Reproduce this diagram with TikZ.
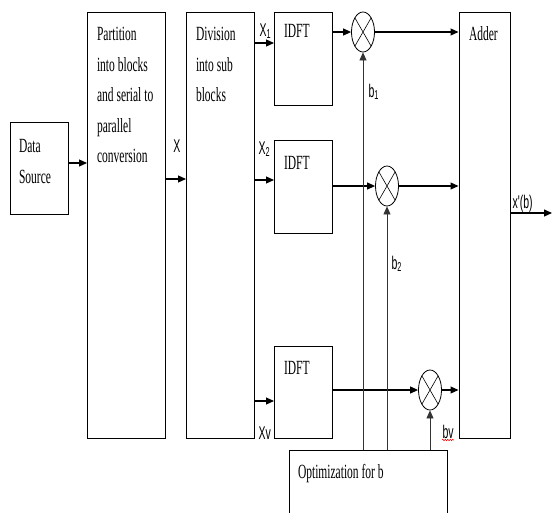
\documentclass[tikz,border=0pt]{standalone}
\usepackage{fontspec}
\setmainfont{Liberation Serif}
\newfontfamily\lblfont{Liberation Sans}
\usetikzlibrary{positioning,shapes.geometric,arrows.meta,decorations.pathmorphing}

\tikzset{
  blk/.style={draw,line width=1pt,inner sep=0pt},
  txt/.style={inner sep=0pt,align=left,font=\fontsize{11.5}{17.4}\selectfont,yscale=1.75},
  sig/.style={inner sep=0pt,font=\lblfont\fontsize{10.5}{12}\selectfont,yscale=1.75},
  mult/.style={draw,ellipse,line width=0.8pt,minimum width=23pt,minimum height=40pt,inner sep=0pt,
    path picture={\draw[line width=0.6pt] (path picture bounding box.north west)--(path picture bounding box.south east)
      (path picture bounding box.north east)--(path picture bounding box.south west);}},
  feed/.style={->,line width=0.8pt,black!80},
}

\begin{document}
\begin{tikzpicture}[x=1pt,y=-1pt,>={Triangle[length=8pt,width=7pt]},line width=1.1pt]
    \useasboundingbox (0,0) rectangle (552,512);
    % blocks
    \node[blk,minimum width=58pt,minimum height=92pt] (src) at (39,168) {};
    \node[blk,minimum width=78pt,minimum height=426pt] (part) at (126,225) {};
    \node[blk,minimum width=68pt,minimum height=426pt] (div) at (220,225) {};
    \node[blk,minimum width=58pt,minimum height=93pt] (idft1) at (303,58.5) {};
    \node[blk,minimum width=58pt,minimum height=93pt] (idft2) at (303,186.5) {};
    \node[blk,minimum width=58pt,minimum height=92pt] (idft3) at (303,392) {};
    \node[blk,minimum width=51pt,minimum height=426pt] (adder) at (484.5,225) {};
    \node[blk,minimum width=158pt,minimum height=90pt] (opt) at (368,495) {};
    % block texts
    \node[txt,below right=17pt and 9pt of src.north west] (tsrc) {Data\\Source};
    \node[txt,below right=15pt and 10pt of part.north west] (tpart) {Partition\\into blocks\\and serial to\\parallel\\conversion};
    \node[txt,below right=15pt and 10pt of div.north west] (tdiv) {Division\\into sub\\blocks};
    \node[txt,below right=12pt and 10pt of idft1.north west] (tid1) {IDFT};
    \node[txt,below right=16pt and 10pt of idft2.north west] (tid2) {IDFT};
    \node[txt,below right=15pt and 10pt of idft3.north west] (tid3) {IDFT};
    \node[txt,below right=14pt and 10pt of adder.north west] (tadd) {Adder};
    \node[txt,below right=14pt and 9pt of opt.north west] (topt) {Optimization for b};
    % multipliers
    \node[mult] (m1) at (363,32) {};
    \node[mult] (m2) at (387,186) {};
    \node[mult] (m3) at (430,390) {};
    % entry points
    \coordinate (pin) at (87,163);
    \coordinate (din) at (186,179);
    \coordinate (in1) at (274,43);
    \coordinate (in2) at (274,180);
    \coordinate (in3) at (274,401);
    \coordinate (out) at (552,213);
    % connectors
    \draw[->] (src.east |- pin) -- (pin);
    \draw[->] (part.east |- din) -- (din);
    \draw[->] (div.east |- in1) -- (in1);
    \draw[->] (div.east |- in2) -- (in2);
    \draw[->] (div.east |- in3) -- (in3);
    \draw[->] (idft1.east |- m1) -- (m1.west);
    \draw[->] (idft2.east |- m2) -- (m2.west);
    \draw[->] (idft3.east |- m3) -- (m3.west);
    \foreach \m in {m1,m2,m3}{
        \draw[->] (\m.east) -- (\m.east -| adder.west);
        \draw[feed] (\m.south |- opt.north) -- (\m.south);
    }
    \draw[->] (adder.east |- out) -- (out);
    % signal labels
    \node[sig] (lX) at (177,146) {X};
    \node[sig,anchor=base west] (lx1) at (259,36) {X\textsubscript{1}};
    \node[sig,anchor=base west] (lx2) at (258,154) {X\textsubscript{2}};
    \node[sig,anchor=base west] (lxv) at (258,439) {Xv};
    \node[sig,anchor=base west] (lb1) at (368,97) {b\textsubscript{1}};
    \node[sig,anchor=base west] (lb2) at (391,269) {b\textsubscript{2}};
    \node[sig,anchor=base west] (lbv) at (442,438) {bv};
    \node[sig,anchor=base west] (lout) at (512,208) {x'(b)};
    \draw[red,line width=0.5pt,decorate,decoration={snake,amplitude=0.8pt,segment length=2.5pt}]
        ([yshift=-2pt]lbv.base west) -- ([yshift=-2pt]lbv.base east);
\end{tikzpicture}
\end{document}
